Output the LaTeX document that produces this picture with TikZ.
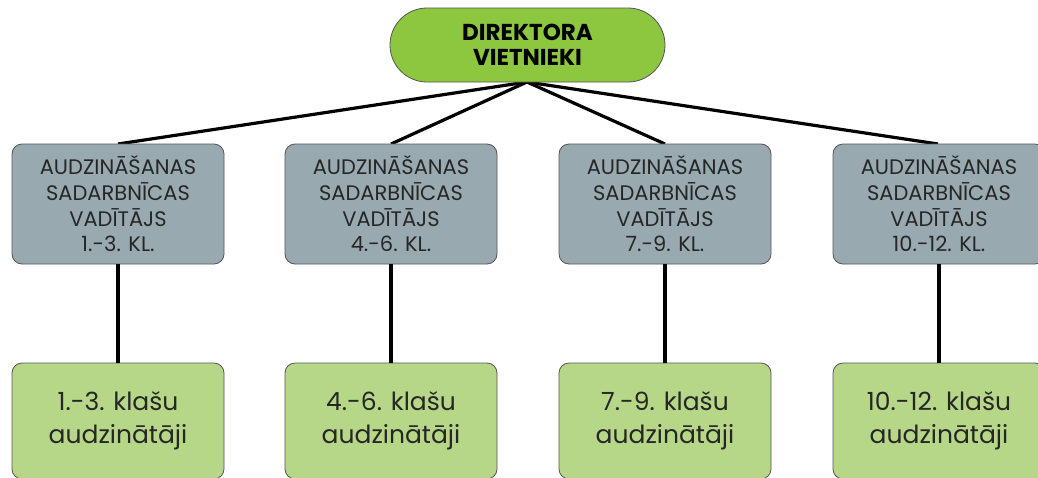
\documentclass[tikz,border=0pt]{standalone}
\usepackage{fontspec}
\setmainfont{Poppins}
\definecolor{topgreen}{RGB}{141,198,63}
\definecolor{boxgray}{RGB}{152,170,176}
\definecolor{boxgreen}{RGB}{183,215,136}
\definecolor{edgegray}{RGB}{85,85,85}
\begin{document}
\begin{tikzpicture}[x=1pt,y=-1pt,
  topnode/.style={draw=edgegray, line width=0.8pt, fill=topgreen, rounded corners=37pt,
    minimum width=275pt, minimum height=74pt, align=center, inner sep=0pt,
    font=\fontsize{23}{25}\selectfont\bfseries},
  graybox/.style={draw=edgegray, line width=0.8pt, fill=boxgray, rounded corners=10pt,
    minimum width=212pt, minimum height=120pt, align=center, inner sep=0pt,
    text=black!85, font=\fontsize{21}{25.7}\selectfont},
  greenbox/.style={draw=edgegray, line width=0.8pt, fill=boxgreen, rounded corners=10pt,
    minimum width=212pt, minimum height=116pt, align=center, inner sep=0pt,
    text=black!85, font=\fontsize{25}{33}\selectfont},
  link/.style={line width=3.2pt, black}]
\useasboundingbox (0,0) rectangle (1038,477);
\fill[white] (0,0) rectangle (1038,477);
\coordinate (hub) at (527,82);
\coordinate (t1) at (118,144);
\coordinate (t2) at (391,144);
\coordinate (t3) at (665,144);
\coordinate (t4) at (938,144);
\draw[link] (hub) -- (t1);
\draw[link] (hub) -- (t2);
\draw[link] (hub) -- (t3);
\draw[link] (hub) -- (t4);
\node[topnode] (top) at (527.5,45) {DIREKTORA\\VIETNIEKI};
\node[graybox] (g1) at (118,204) {AUDZINĀŠANAS\\SADARBNĪCAS\\VADĪTĀJS\\1.-3. KL.};
\node[graybox] (g2) at (391,204) {AUDZINĀŠANAS\\SADARBNĪCAS\\VADĪTĀJS\\4.-6. KL.};
\node[graybox] (g3) at (665,204) {AUDZINĀŠANAS\\SADARBNĪCAS\\VADĪTĀJS\\7.-9. KL.};
\node[graybox] (g4) at (939,204) {AUDZINĀŠANAS\\SADARBNĪCAS\\VADĪTĀJS\\10.-12. KL.};
\node[greenbox] (c1) at (118,421) {1.-3. klašu\\audzinātāji};
\node[greenbox] (c2) at (391,421) {4.-6. klašu\\audzinātāji};
\node[greenbox] (c3) at (665,421) {7.-9. klašu\\audzinātāji};
\node[greenbox] (c4) at (939,421) {10.-12. klašu\\audzinātāji};
\draw[link] (g1.south) -- (c1.north);
\draw[link] (g2.south) -- (c2.north);
\draw[link] (g3.south) -- (c3.north);
\draw[link] (g4.south) -- (c4.north);
\end{tikzpicture}
\end{document}
